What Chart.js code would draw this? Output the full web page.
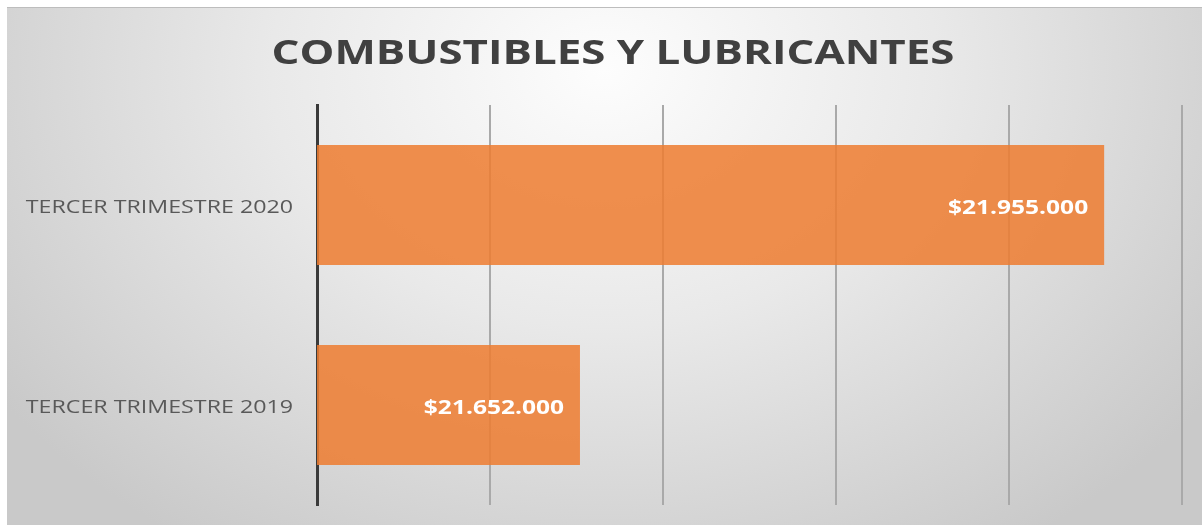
<!DOCTYPE html>
<html>
<head>
<meta charset="utf-8">
<script src="https://cdn.jsdelivr.net/npm/chart.js@4/dist/chart.umd.min.js"></script>
<style>
    body { margin: 0; background: #fff; }
    .fondo {
        position: absolute; left: 7px; top: 7px; width: 1195px; height: 518px;
        border-top: 1px solid #bdbdbd;
        background: radial-gradient(ellipse 62% 110% at 50% 12%, #fdfdfd 0%, #e9e9e9 45%, #c9c9c9 100%);
    }
    .caja { position: absolute; left: 0; top: 0; width: 1202px; height: 525px; }
</style>
</head>
<body>
<div class="fondo"></div>
<div class="caja"><canvas id="js--chart--1" width="1202" height="525"></canvas></div>
<script>
const titulo = 'COMBUSTIBLES Y LUBRICANTES';
const categorias = ['TERCER TRIMESTRE 2020', 'TERCER TRIMESTRE 2019'];
const valores = [21955000, 21652000];
const etiquetas = ['$21.955.000', '$21.652.000'];
const ejeMin = 21500000, ejeMax = 22000000, ejePaso = 100000;

// el original tiene el texto estirado a lo ancho
const estirar = 1.29;

function textoAncho(c, texto, x, y, align) {
    c.save();
    c.translate(x, y);
    c.scale(estirar, 1);
    c.textAlign = align;
    c.fillText(texto, 0, 0);
    c.restore();
}

// titulo, nombres de categoria y valores dentro de la barra
const textos = {
    id: 'textos',
    afterDatasetsDraw(chart) {
        const c = chart.ctx;
        const meta = chart.getDatasetMeta(0);
        const yEje = chart.scales.y;
        c.save();
        c.textBaseline = 'alphabetic';

        c.font = 'bold 34px "Open Sans"';
        c.fillStyle = '#404040';
        textoAncho(c, titulo, 613, 64, 'center');

        c.font = '18px "Open Sans"';
        c.fillStyle = '#595959';
        chart.data.labels.forEach((lab, i) => {
            textoAncho(c, lab, yEje.right - 24, yEje.getPixelForTick(i) + 7.5, 'right');
        });

        c.font = 'bold 19px "Open Sans"';
        c.fillStyle = '#ffffff';
        meta.data.forEach((bar, i) => {
            textoAncho(c, etiquetas[i], bar.x - 16, bar.y + 8.5, 'right');
        });
        c.restore();
    }
};

const ctx = document.getElementById('js--chart--1');

new Chart(ctx, {
    type: 'bar',
    data: {
        labels: categorias,
        datasets: [{
            label: 'Combustibles y lubricantes',
            data: valores,
            backgroundColor: 'rgba(237,125,49,0.86)',
            borderWidth: 0,
            barPercentage: 0.6,
            categoryPercentage: 1
        }]
    },
    options: {
        indexAxis: 'y',
        responsive: false,
        animation: false,
        devicePixelRatio: 1,
        layout: { padding: { left: 0, right: 20, top: 105, bottom: 0 } },
        plugins: {
            legend: { display: false },
            tooltip: { enabled: false },
            title: { display: false }
        },
        scales: {
            x: {
                min: ejeMin,
                max: ejeMax,
                ticks: { display: false, stepSize: ejePaso },
                grid: {
                    color: (c) => c.index === 0 ? 'rgba(0,0,0,0)' : '#a9a9a9',
                    lineWidth: 2,
                    drawTicks: false
                },
                border: { display: false },
                afterFit: (s) => { s.height = 20; }
            },
            y: {
                grid: { display: false, drawTicks: false },
                border: { display: true, color: '#3a3a3a', width: 3 },
                ticks: { display: false },
                afterFit: (s) => { s.width = 317; }
            }
        }
    },
    plugins: [textos]
});
</script>
</body>
</html>
